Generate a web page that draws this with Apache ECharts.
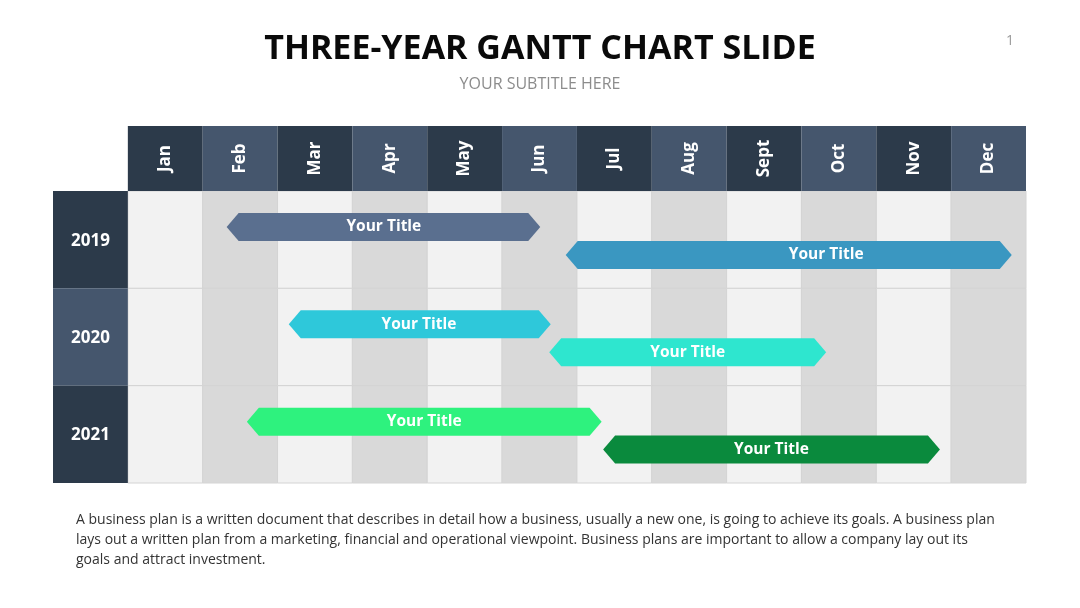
<!DOCTYPE html>
<html>
<head>
<meta charset="utf-8">
<script src="https://cdn.jsdelivr.net/npm/echarts@6/dist/echarts.min.js"></script>
<style>
html,body{margin:0;padding:0;background:#fff;}
#main{width:1080px;height:608px;}
</style>
</head>
<body>
<div id="main"></div>
<script>
// ---- data ----
var months = ['Jan','Feb','Mar','Apr','May','Jun','Jul','Aug','Sept','Oct','Nov','Dec'];
var years = ['2019','2020','2021'];
var taskLabels = ['Your Title','Your Title','Your Title','Your Title','Your Title','Your Title'];
var taskYear  = [0, 0, 1, 1, 2, 2];
var taskLane  = [0, 1, 0, 1, 0, 1];
var taskStart = [1.32, 5.85, 2.15, 5.63, 1.59, 6.35];
var taskEnd   = [5.51, 11.81, 5.65, 9.33, 6.33, 10.85];
var taskLabelAt = [3.42, 9.33, 3.89, 7.48, 3.96, 8.6];
var paragraphLines = [
  'A business plan is a written document that describes in detail how a business, usually a new one, is going to achieve its goals. A business plan',
  'lays out a written plan from a marketing, financial and operational viewpoint. Business plans are important to allow a company lay out its',
  'goals and attract investment.'
];

// ---- styles ----
var taskColors = ['#5a6f8f', '#3a97c1', '#2ec8da', '#2ee6cf', '#2ef27e', '#0a8a3d'];
var headDark = '#2c3a4a', headLight = '#45566d';
var cellLight = '#f2f2f2', cellDark = '#d9d9d9';
var HEAD = 0.668;

var chart = echarts.init(document.getElementById('main'), null, {renderer: 'canvas'});

function rectBetween(api, x0, y0, x1, y1) {
  var p0 = api.coord([x0, y0]);
  var p1 = api.coord([x1, y1]);
  return {x: Math.min(p0[0], p1[0]), y: Math.min(p0[1], p1[1]), width: Math.abs(p1[0]-p0[0]), height: Math.abs(p1[1]-p0[1])};
}

var headerData = months.map(function (m, i) { return [i, m]; });
var rowData = years.map(function (y, i) { return [i, y]; });
var cellData = [];
for (var r = 0; r < years.length; r++) for (var c = 0; c < months.length; c++) cellData.push([c, r]);
var taskData = taskStart.map(function (s, i) { return [s, taskEnd[i], taskYear[i], taskLane[i], taskLabelAt[i], i]; });

var option = {
  backgroundColor: '#ffffff',
  animation: false,
  title: [
    {text: 'THREE-YEAR GANTT CHART SLIDE', left: 'center', top: 27,
     textStyle: {fontFamily: 'Open Sans', fontWeight: 'bold', fontSize: 34, color: '#0a0a0a'}},
    {text: 'YOUR SUBTITLE HERE', left: 'center', top: 71,
     textStyle: {fontFamily: 'Open Sans', fontWeight: 'normal', fontSize: 16, color: '#8c8c8c'}},
    {text: '1', left: 1001, top: 29,
     textStyle: {fontFamily: 'Open Sans', fontWeight: 'normal', fontSize: 14, color: '#9a9a9a'}}
  ],
  grid: {left: 53, right: 54, top: 126, bottom: 125},
  xAxis: {type: 'value', min: -1, max: 12, show: false},
  yAxis: {type: 'value', min: -HEAD, max: 3, inverse: true, show: false},
  graphic: paragraphLines.map(function (t, i) {
    return {type: 'text', left: 76, top: 513 + i * 20,
      style: {text: t, fontFamily: 'Open Sans', fontSize: 14, fill: '#333333'}};
  }),
  series: [
    {
      type: 'custom', name: 'cells', data: cellData, silent: true,
      renderItem: function (params, api) {
        var c = api.value(0), r = api.value(1);
        var s = rectBetween(api, c, r, c + 1, r + 1);
        return {type: 'rect', shape: s,
          style: {fill: c % 2 === 0 ? cellLight : cellDark, stroke: '#d4d4d4', lineWidth: 1}};
      }
    },
    {
      type: 'custom', name: 'header', data: headerData, silent: true,
      renderItem: function (params, api) {
        var c = api.value(0);
        var s = rectBetween(api, c, -HEAD, c + 1, 0);
        return {type: 'group', children: [
          {type: 'rect', shape: s, style: {fill: c % 2 === 0 ? headDark : headLight}},
          {type: 'text', x: s.x + s.width / 2, y: s.y + s.height / 2, rotation: Math.PI / 2,
           style: {text: months[c], fill: '#ffffff', fontFamily: 'Open Sans', fontWeight: 'bold', fontSize: 17,
             align: 'center', verticalAlign: 'middle'}}
        ]};
      }
    },
    {
      type: 'custom', name: 'rows', data: rowData, silent: true,
      renderItem: function (params, api) {
        var r = api.value(0);
        var s = rectBetween(api, -1, r, 0, r + 1);
        return {type: 'group', children: [
          {type: 'rect', shape: s, style: {fill: r % 2 === 0 ? headDark : headLight}},
          {type: 'text', x: s.x + s.width / 2, y: s.y + s.height / 2 + 1,
           style: {text: years[r], fill: '#ffffff', fontFamily: 'Open Sans', fontWeight: 'bold', fontSize: 17,
             align: 'center', verticalAlign: 'middle'}}
        ]};
      }
    },
    {
      type: 'custom', name: 'tasks', data: taskData,
      renderItem: function (params, api) {
        var s = api.value(0), e = api.value(1), r = api.value(2), lane = api.value(3), la = api.value(4), idx = api.value(5);
        var yc = r + 0.37 + lane * 0.287;
        var p0 = api.coord([s, yc]);
        var p1 = api.coord([e, yc]);
        var h = 28, tip = 12;
        var pts = [
          [p0[0], p0[1]],
          [p0[0] + tip, p0[1] - h / 2],
          [p1[0] - tip, p1[1] - h / 2],
          [p1[0], p1[1]],
          [p1[0] - tip, p1[1] + h / 2],
          [p0[0] + tip, p0[1] + h / 2]
        ];
        var lp = api.coord([la, yc]);
        return {type: 'group', children: [
          {type: 'polygon', shape: {points: pts}, style: {fill: taskColors[idx]}},
          {type: 'text', x: lp[0], y: lp[1], style: {text: taskLabels[idx], fill: '#ffffff',
            fontFamily: 'Open Sans', fontWeight: 'bold', fontSize: 15.5, align: 'center', verticalAlign: 'middle'}}
        ]};
      }
    }
  ]
};
chart.setOption(option);
</script>
</body>
</html>
